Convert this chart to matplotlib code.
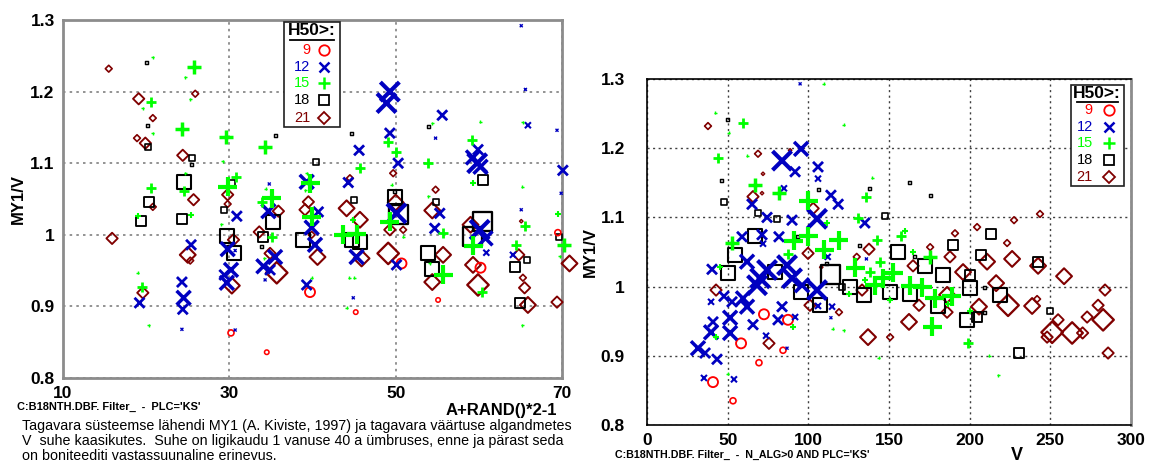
import matplotlib
matplotlib.use("Agg")
import matplotlib.pyplot as plt
import numpy as np
from matplotlib.patches import Rectangle
from matplotlib.lines import Line2D

plt.rcParams['font.family'] = ['Liberation Sans', 'DejaVu Sans']

# H50 classes and their styles
groups = ['9', '12', '15', '18', '21']
colors = {'9': '#ff0000', '12': '#0000c0', '15': '#00ff00', '18': '#000000', '21': '#800000'}
markers = {'9': 'o', '12': 'x', '15': '+', '18': 's', '21': 'D'}

# ---- left panel: x = A+RAND()*2-1, y = MY1/V, w = relative weight (marker size)
L9_x = [30.2, 34.5, 39.7, 50.7, 45.2, 55.1, 60.2, 69.5]
L9_y = [0.863, 0.836, 0.920, 0.960, 0.892, 0.909, 0.954, 1.003]
L9_w = [2, 1.5, 3, 3, 1.5, 1.5, 3, 2]

L12_x = [30.9, 34.8, 34.7, 29.8, 30.7, 25.4, 30.2, 29.4, 29.7, 24.3, 24.5, 24.4, 24.3, 19.2,
         30.7, 34.1, 35.5, 34.9, 34.3, 45.6, 48.9, 49.3, 49.3, 50.3, 54.8, 55.6, 65.9, 65.1,
         65.6, 69.4, 70.1, 69.9, 65.1, 59.9, 59.8, 59.3, 60.2, 39.3, 40.7, 44.3, 50.1, 54.7,
         55.3, 60.1, 60.8, 40.3, 39.9, 39.3, 45.3, 50.1, 44.9, 64.1, 60.9]
L12_y = [1.026, 1.071, 1.033, 0.980, 0.978, 0.986, 0.951, 0.944, 0.933, 0.934, 0.912, 0.896, 0.868, 0.905,
         0.867, 0.956, 0.969, 0.951, 0.937, 1.118, 1.184, 1.200, 1.142, 1.100, 1.135, 1.167, 1.153, 1.292,
         1.203, 1.146, 1.090, 1.058, 1.035, 1.119, 1.100, 1.108, 1.095, 1.074, 1.032, 1.073, 1.030, 1.009,
         1.030, 1.007, 0.995, 0.986, 1.010, 0.930, 0.969, 0.958, 0.912, 0.972, 0.975]
L12_w = [3, 1, 4, 4, 1, 3, 4, 3, 4, 3, 4, 3, 1, 3,
         1, 4, 4, 3, 1, 3, 5, 5, 3, 3, 1, 3, 2, 1,
         1, 1, 3, 1, 1, 3, 5, 4, 4, 4, 3, 3, 5, 3,
         3, 5, 4, 4, 4, 3, 4, 3, 1, 2, 2]

L15_x = [20.8, 25.7, 24.7, 25.3, 20.6, 19.6, 20.8, 24.3, 29.6, 34.3, 29.2, 20.6, 24.7, 24.6,
         19.0, 25.4, 29.8, 30.8, 29.0, 35.1, 33.9, 34.4, 35.1, 34.2, 19.0, 19.5, 20.3, 45.7,
         49.1, 50.0, 54.4, 53.9, 60.2, 65.3, 59.2, 59.3, 39.7, 39.9, 39.3, 39.1, 43.7, 45.3,
         49.3, 55.7, 55.7, 59.3, 60.4, 64.5, 65.2, 70.3, 69.7, 65.5, 65.2, 69.5, 44.4, 45.0,
         44.1, 39.9, 53.9, 54.1, 49.5, 50.9, 44.9]
L15_y = [1.248, 1.234, 1.220, 1.189, 1.185, 1.177, 1.142, 1.148, 1.137, 1.122, 1.103, 1.065, 1.086, 1.061,
         1.026, 1.028, 1.067, 1.081, 1.015, 1.051, 1.046, 1.064, 0.997, 0.967, 0.947, 0.927, 0.874, 1.093,
         1.129, 1.116, 1.156, 1.100, 1.158, 1.157, 1.132, 1.073, 1.072, 1.025, 1.086, 1.062, 1.000, 1.001,
         1.018, 1.003, 0.944, 0.985, 0.920, 0.986, 0.874, 0.986, 0.970, 1.012, 1.067, 1.029, 0.940, 0.940,
         0.898, 0.940, 1.054, 0.960, 1.070, 0.997, 1.021]
L15_w = [1, 4, 1, 1, 3, 1, 1, 4, 4, 4, 1, 3, 1, 3,
         2, 2, 5, 3, 1, 5, 3, 1, 3, 1, 1, 3, 1, 3,
         3, 3, 1, 3, 1, 1, 3, 2, 5, 5, 1, 1, 5, 5,
         5, 3, 5, 5, 3, 3, 1, 4, 1, 3, 1, 2, 1, 1,
         1, 1, 1, 1, 1, 1, 2]

L18_x = [20.0, 20.2, 35.5, 20.2, 25.5, 25.4, 24.6, 30.3, 29.4, 20.3, 19.4, 24.3, 35.2, 29.7,
         30.6, 34.0, 33.9, 44.7, 54.0, 60.5, 40.4, 45.0, 49.9, 50.4, 49.9, 54.8, 60.4, 59.2,
         38.8, 44.7, 45.7, 53.9, 54.4, 64.3, 65.8, 64.9, 69.6]
L18_y = [1.240, 1.152, 1.139, 1.123, 1.107, 1.098, 1.074, 1.073, 1.035, 1.046, 1.019, 1.022, 1.018, 0.999,
         0.975, 0.997, 0.983, 1.142, 1.151, 1.077, 1.101, 1.048, 1.053, 1.028, 1.061, 1.046, 1.018, 0.997,
         0.993, 0.993, 0.990, 0.975, 0.952, 0.955, 0.965, 0.905, 0.997]
L18_w = [1, 1, 1, 2, 2, 1, 4, 2, 2, 3, 3, 3, 4, 4,
         4, 3, 1, 1, 1, 3, 2, 2, 4, 5, 1, 2, 5, 5,
         4, 4, 4, 4, 4, 3, 2, 3, 2]

L21_x = [15.5, 25.9, 19.1, 20.8, 18.9, 19.9, 24.4, 25.7, 20.8, 29.8, 29.8, 35.9, 15.9, 30.5,
         25.0, 25.3, 30.3, 19.6, 33.6, 35.7, 34.9, 49.7, 44.5, 39.5, 39.1, 44.1, 45.7, 50.0,
         54.8, 54.4, 59.0, 40.6, 45.9, 49.1, 49.3, 50.9, 55.7, 54.4, 59.3, 59.9, 64.8, 65.3,
         65.5, 65.9, 69.4, 70.9, 65.1, 39.9]
L21_y = [1.232, 1.197, 1.190, 1.163, 1.135, 1.128, 1.111, 1.049, 1.039, 1.056, 1.043, 1.033, 0.995, 0.993,
         0.972, 0.964, 0.929, 0.919, 1.004, 0.947, 0.974, 1.086, 1.079, 1.046, 1.035, 1.037, 1.021, 1.045,
         1.063, 1.034, 1.014, 0.969, 0.967, 0.974, 1.007, 1.007, 0.972, 0.934, 0.958, 0.930, 0.972, 0.940,
         0.926, 0.902, 0.906, 0.960, 1.019, 1.000]
L21_w = [2, 2, 3, 2, 2, 3, 3, 3, 2, 3, 2, 3, 3, 3,
         4, 2, 4, 3, 3, 5, 3, 2, 2, 3, 3, 4, 4, 4,
         2, 4, 4, 4, 4, 5, 3, 2, 4, 4, 4, 5, 3, 2,
         3, 4, 3, 4, 1, 2]

# ---- right panel: x = V, y = MY1/V
R9_x = [72.5, 87.4, 58.3, 84.3, 69.4, 40.9, 53.3]
R9_y = [0.960, 0.952, 0.918, 0.908, 0.890, 0.862, 0.835]
R9_w = [3, 3, 3, 2, 2, 3, 2]

R12_x = [94.9, 83.7, 95.5, 91.8, 106.0, 106.0, 65.1, 114.0, 118.5, 105.4, 74.4, 89.9, 71.3, 58.9,
         81.8, 62.0, 40.3, 135.0, 70.1, 74.4, 68.2, 86.8, 89.9, 96.1, 105.4, 114.7, 47.7, 52.7,
         59.5, 62.0, 83.7, 81.2, 65.7, 51.5, 51.5, 40.9, 39.7, 73.8, 31.6, 36.0, 43.4, 35.3,
         53.9, 39.7, 91.8, 86.8, 114.0, 71.9, 106.0, 84.9, 112.0, 136.0]
R12_y = [1.293, 1.182, 1.199, 1.166, 1.173, 1.156, 1.119, 1.132, 1.119, 1.098, 1.100, 1.096, 1.075, 1.072,
         1.072, 1.036, 1.025, 1.092, 1.012, 1.024, 1.002, 1.031, 1.012, 1.002, 0.995, 0.971, 0.986, 0.978,
         0.983, 0.971, 0.971, 0.952, 0.945, 0.955, 0.933, 0.949, 0.934, 0.929, 0.911, 0.904, 0.895, 0.868,
         0.866, 0.978, 0.956, 0.911, 0.955, 1.062, 0.972, 1.142, 1.043, 1.040]
R12_w = [1, 5, 4, 3, 3, 2, 3, 3, 3, 5, 3, 3, 3, 3,
         3, 4, 3, 3, 5, 5, 5, 5, 5, 4, 5, 2, 3, 3,
         4, 4, 3, 3, 3, 4, 4, 3, 4, 2, 4, 3, 3, 2,
         2, 2, 2, 1, 1, 2, 2, 2, 2, 1]

R15_x = [109.7, 42.2, 59.5, 50.8, 122.1, 44.0, 62.0, 67.0, 81.8, 99.8, 136.0, 139.5, 131.0, 52.7,
         87.4, 110.0, 119.0, 91.1, 99.8, 129.0, 141.3, 142.6, 157.5, 144.4, 138.0, 152.5, 146.3, 163.1,
         170.5, 175.5, 178.5, 189.0, 176.7, 199.0, 212.0, 217.6, 143.8, 90.5, 115.0, 122.0, 42.8, 50.2,
         111.6, 45.3, 150.7, 186.5, 200.0, 165.0, 135.0, 125.0, 160.0]
R15_y = [1.293, 1.251, 1.236, 1.222, 1.234, 1.186, 1.189, 1.147, 1.135, 1.124, 1.130, 1.157, 1.099, 1.063,
         1.047, 1.053, 1.067, 1.066, 1.073, 1.027, 1.002, 1.067, 1.073, 1.036, 1.021, 1.020, 1.012, 1.001,
         0.999, 1.043, 0.983, 0.986, 0.942, 0.918, 0.900, 0.872, 0.897, 0.942, 0.939, 0.937, 0.927, 0.874,
         1.092, 1.028, 0.980, 0.975, 0.965, 1.050, 1.010, 0.990, 1.080]
R15_w = [1, 1, 3, 1, 1, 3, 1, 4, 4, 5, 3, 1, 3, 4,
         3, 5, 5, 5, 5, 5, 5, 3, 3, 3, 3, 5, 5, 5,
         5, 4, 5, 5, 5, 3, 1, 1, 1, 2, 1, 1, 2, 1,
         2, 2, 2, 2, 2, 2, 2, 2, 2]

R18_x = [49.6, 45.9, 47.7, 68.8, 138.0, 163.0, 175.5, 147.5, 67.0, 54.6, 50.2, 113.5, 79.4, 95.5,
         107.3, 120.9, 125.9, 134.5, 155.6, 213.3, 189.7, 207.1, 242.4, 172.3, 183.5, 200.2, 150.7, 163.1,
         200.2, 218.8, 180.4, 198.4, 204.6, 249.8, 230.6, 80.6, 93.0, 106.0, 132.0, 111.0, 166.0, 209.5,
         209.5]
R18_y = [1.241, 1.153, 1.122, 1.106, 1.142, 1.151, 1.132, 1.102, 1.073, 1.046, 1.020, 1.018, 1.021, 0.992,
         0.973, 0.999, 0.999, 0.988, 1.050, 1.076, 1.060, 1.046, 1.036, 1.030, 1.017, 1.017, 0.992, 0.990,
         0.998, 0.988, 0.972, 0.952, 0.956, 0.965, 0.904, 1.098, 1.073, 1.140, 1.060, 1.034, 1.044, 0.998,
         0.962]
R18_w = [1, 1, 2, 2, 1, 1, 1, 2, 4, 4, 4, 5, 4, 4,
         4, 2, 4, 4, 4, 3, 3, 3, 3, 4, 4, 3, 4, 4,
         4, 4, 4, 4, 3, 2, 3, 2, 1, 1, 1, 1, 1, 1,
         1]

R21_x = [37.8, 68.8, 71.9, 71.3, 65.7, 103.0, 88.7, 137.6, 99.8, 101.0, 119.0, 133.3, 42.8, 75.6,
         137.0, 243.6, 227.5, 204.6, 190.9, 223.2, 175.5, 187.8, 210.8, 226.3, 242.4, 258.5, 283.9, 164.9,
         195.9, 216.4, 223.8, 186.0, 205.8, 168.6, 186.0, 162.4, 238.7, 251.1, 254.8, 263.5, 272.8, 282.7,
         279.6, 150.7, 285.8, 248.0, 270.0, 241.8, 130.0, 108.0]
R21_y = [1.232, 1.192, 1.163, 1.135, 1.130, 1.113, 1.197, 1.054, 1.048, 0.973, 0.963, 0.995, 0.995, 0.918,
         0.927, 1.105, 1.096, 1.086, 1.077, 1.063, 1.057, 1.043, 1.036, 1.040, 1.030, 1.015, 0.995, 1.030,
         1.021, 1.005, 0.973, 0.988, 0.971, 0.973, 0.963, 0.949, 0.972, 0.934, 0.952, 0.933, 0.956, 0.952,
         0.973, 0.927, 0.904, 0.927, 0.933, 0.982, 1.043, 1.028]
R21_w = [2, 2, 1, 1, 3, 3, 1, 3, 3, 3, 2, 3, 3, 3,
         4, 2, 2, 2, 2, 2, 2, 3, 4, 4, 4, 4, 3, 3,
         4, 4, 5, 4, 4, 3, 3, 4, 4, 5, 3, 5, 3, 5,
         3, 2, 3, 3, 3, 2, 2, 1]

left_data = {'9': (L9_x, L9_y, L9_w), '12': (L12_x, L12_y, L12_w), '15': (L15_x, L15_y, L15_w),
             '18': (L18_x, L18_y, L18_w), '21': (L21_x, L21_y, L21_w)}
right_data = {'9': (R9_x, R9_y, R9_w), '12': (R12_x, R12_y, R12_w), '15': (R15_x, R15_y, R15_w),
              '18': (R18_x, R18_y, R18_w), '21': (R21_x, R21_y, R21_w)}

caption = ("Tagavara süsteemse lähendi MY1 (A. Kiviste, 1997) ja tagavara väärtuse algandmetes\n"
           "V  suhe kaasikutes.  Suhe on ligikaudu 1 vanuse 40 a ümbruses, enne ja pärast seda\n"
           "on boniteediti vastassuunaline erinevus.")


def marker_style(key, w):
    px = np.interp(w, [1, 2, 3, 4, 5], [3, 6, 10, 14, 19])
    if key == '21':
        px = px * 0.8
    s = (px * 0.72) ** 2
    if key in ('12', '15'):
        lw = 0.5 + 0.5 * np.asarray(w)
    else:
        lw = 0.9 + 0.15 * np.asarray(w)
    return s, lw


def draw_points(ax, data):
    # diamonds and squares first, crosses on top
    for key in ['21', '18', '9', '12', '15']:
        x, y, w = data[key]
        s, lw = marker_style(key, w)
        if markers[key] in ('x', '+'):
            ax.scatter(x, y, s=s, marker=markers[key], c=colors[key], linewidths=lw,
                       clip_on=False, zorder=3)
        else:
            ax.scatter(x, y, s=s, marker=markers[key], facecolors='none',
                       edgecolors=colors[key], linewidths=lw, clip_on=False, zorder=3)


def draw_legend(ax, box, title_xy, underline_y, num_x, mark_x, rows_y):
    ax.add_patch(Rectangle((box[0], box[1]), box[2] - box[0], box[3] - box[1],
                           transform=ax.transAxes, facecolor='white', edgecolor='#202020',
                           linewidth=1.2, zorder=5, clip_on=False))
    ax.text(title_xy[0], title_xy[1], 'H50>:', transform=ax.transAxes, ha='center', va='center',
            fontsize=12.5, fontweight='bold', zorder=6)
    ax.add_line(Line2D([box[0] + 0.012, box[2] - 0.012], [underline_y, underline_y],
                       transform=ax.transAxes, color='black', linewidth=1.3, zorder=6))
    for key, ry in zip(groups, rows_y):
        ax.text(num_x, ry, key, transform=ax.transAxes, ha='right', va='center',
                fontsize=10.5, color=colors[key], zorder=6)
        lw = 1.8 if markers[key] in ('x', '+') else 1.3
        ms = 9 if markers[key] == '+' else (6.5 if markers[key] == 'D' else 7.5)
        ax.plot([mark_x], [ry], transform=ax.transAxes, marker=markers[key], ms=ms,
                mfc='none', mec=colors[key], mew=lw, color=colors[key], linestyle='none',
                zorder=6, clip_on=False)


fig = plt.figure(figsize=(11.52, 4.71), dpi=100)

# ---------------- left panel
ax1 = fig.add_axes([63 / 1152, 1 - 378 / 471, 499 / 1152, 358 / 471])
ax1.set_xlim(10, 70)
ax1.set_ylim(0.8, 1.3)
ax1.set_xticks([10, 30, 50, 70])
ax1.set_yticks([0.8, 0.9, 1.0, 1.1, 1.2, 1.3])
ax1.set_yticklabels(['0.8', '0.9', '1', '1.1', '1.2', '1.3'])
ax1.tick_params(length=0, labelsize=12.5, pad=6)
for lab in ax1.get_xticklabels() + ax1.get_yticklabels():
    lab.set_fontweight('bold')
ax1.grid(True, color='#808080', linestyle=(0, (1.5, 2.5)), linewidth=1.2)
for sp in ax1.spines.values():
    sp.set_color('#8c8c8c')
    sp.set_linewidth(2)
ax1.set_ylabel('MY1/V', fontsize=12, fontweight='bold', labelpad=3)
draw_points(ax1, left_data)
draw_legend(ax1, (0.443, 0.701, 0.555, 0.994), (0.499, 0.970), 0.944, 0.495, 0.523,
            [0.916, 0.869, 0.824, 0.777, 0.726])
fig.text(557 / 1152, 1 - 410 / 471, 'A+RAND()*2-1', ha='right', va='center',
         fontsize=12, fontweight='bold')
fig.text(17 / 1152, 1 - 407 / 471, "C:B18NTH.DBF. Filter_  -  PLC='KS'", ha='left', va='center',
         fontsize=7.9, fontweight='bold')
fig.text(22 / 1152, 1 - 441 / 471, caption, ha='left', va='center', fontsize=10.3,
         linespacing=1.08)

# ---------------- right panel
ax2 = fig.add_axes([647 / 1152, 1 - 425 / 471, 484 / 1152, 346 / 471])
ax2.set_xlim(0, 300)
ax2.set_ylim(0.8, 1.3)
ax2.set_xticks([0, 50, 100, 150, 200, 250, 300])
ax2.set_yticks([0.8, 0.9, 1.0, 1.1, 1.2, 1.3])
ax2.set_yticklabels(['0.8', '0.9', '1', '1.1', '1.2', '1.3'])
ax2.tick_params(axis='y', length=0, labelsize=12.5, pad=16)
ax2.tick_params(axis='x', length=0, labelsize=12.5, pad=6)
for lab in ax2.get_xticklabels() + ax2.get_yticklabels():
    lab.set_fontweight('bold')
ax2.grid(True, color='#404040', linestyle=(0, (1.5, 2.5)), linewidth=1.0)
for name, sp in ax2.spines.items():
    sp.set_color('black')
    sp.set_linewidth(1.2)
ax2.spines['right'].set_color('#8c8c8c')
ax2.spines['right'].set_linewidth(2)
ax2.set_ylabel('MY1/V', fontsize=12, fontweight='bold', labelpad=2)
draw_points(ax2, right_data)
draw_legend(ax2, (0.876, 0.691, 0.986, 0.983), (0.930, 0.958), 0.934, 0.921, 0.955,
            [0.910, 0.861, 0.815, 0.766, 0.717])
fig.text(1017 / 1152, 1 - 455 / 471, 'V', ha='center', va='center', fontsize=13, fontweight='bold')
fig.text(615 / 1152, 1 - 455 / 471, "C:B18NTH.DBF. Filter_  -  N_ALG>0 AND PLC='KS'", ha='left',
         va='center', fontsize=7.7, fontweight='bold')

fig.savefig('out.png', dpi=100, facecolor='white')
